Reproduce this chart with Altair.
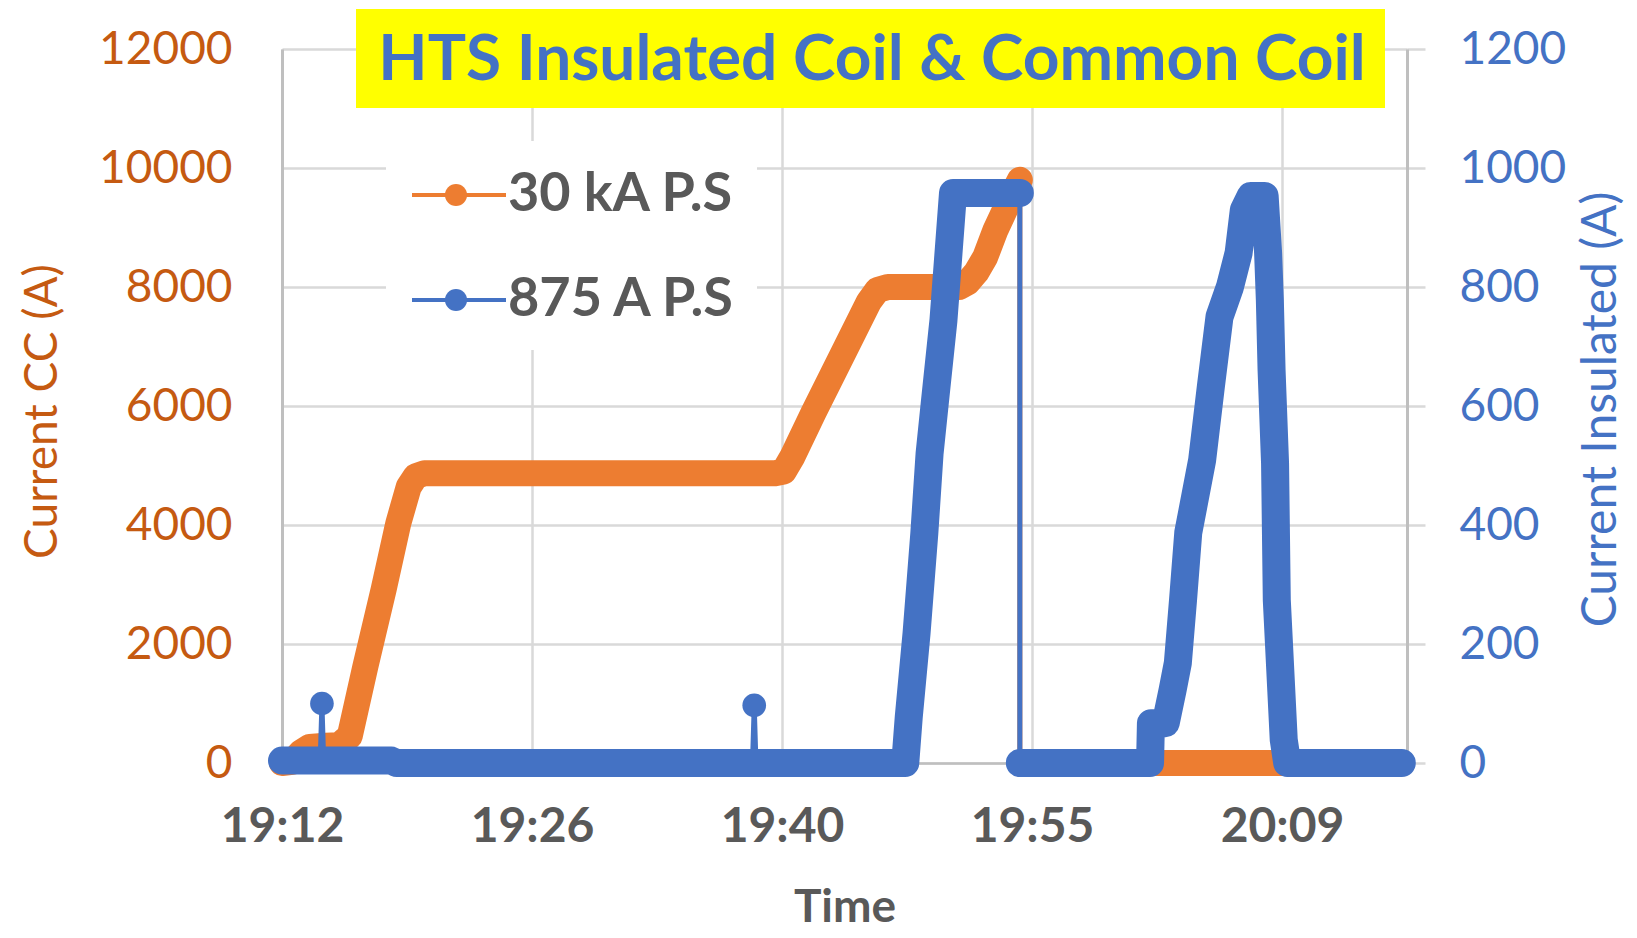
import altair as alt
import pandas as pd

# ---------------- data ----------------
series_names = ["30 kA P.S", "875 A P.S"]
series_colors = ["#ED7D31", "#4472C4"]

title_text = ["HTS Insulated Coil & Common Coil"]

# x in minutes after 19:12
x_tick_values = [0, 14.4, 28.8, 43.2, 57.6]
x_tick_labels = ["19:12", "19:26", "19:40", "19:55", "20:09"]
left_ticks = [0, 2000, 4000, 6000, 8000, 10000, 12000]
right_ticks = [0, 200, 400, 600, 800, 1000, 1200]

# 30 kA power supply (left axis)
orange_min = [0, 0.6, 1.1, 1.6, 2.5, 3.3, 3.9, 4.8, 5.85, 6.7, 7.3, 7.7, 8.2,
              28.4, 28.9, 29.4, 30.6, 32.5, 33.8, 34.3, 34.9,
              39.0, 39.5, 40.0, 40.5, 41.1, 41.9, 42.5,
              42.5, 58.0]
orange_val = [0, 20, 180, 270, 290, 300, 450, 1620, 2910, 4030, 4640, 4820, 4870,
              4870, 4900, 5150, 5880, 6990, 7750, 7950, 8000,
              8000, 8080, 8250, 8500, 8960, 9460, 9800,
              0, 0]
orange_seg = [1] * 28 + [2, 2]

# 875 A power supply (right axis)
blue_min = [0, 2.2, 2.3, 2.4, 6.3, 6.6, 27.1, 27.2, 27.3,
            35.9, 36.1, 36.55, 37.0, 37.3, 37.6, 38.1, 38.65, 42.5,
            42.5, 50.0, 50.05, 50.9, 51.3, 51.6, 51.9, 52.2, 53.0, 53.5, 54.0,
            54.6, 55.1, 55.4, 55.8, 56.6, 56.8, 56.9, 57.0, 57.2, 57.3, 57.7,
            57.9, 64.5]
blue_val = [4, 4, 100, 4, 4, 0, 0, 97, 0,
            0, 77, 218, 387, 520, 605, 744, 958, 958,
            0, 0, 67, 67, 123, 168, 274, 387, 509, 632, 750,
            800, 857, 929, 953, 953, 857, 778, 660, 504, 274, 39,
            0, 0]
blue_seg = [1, 1, 0, 1, 1, 1, 1, 0, 1,
            1, 1, 1, 1, 1, 1, 1, 1, 1,
            2, 2, 2, 2, 2, 2, 2, 2, 2, 2, 2,
            2, 2, 2, 2, 2, 2, 2, 2, 2, 2, 2,
            2, 2]

# ---------------- tables ----------------
df_o = pd.DataFrame({"m": orange_min, "v": orange_val, "seg": orange_seg})
df_o["series"] = series_names[0]
df_o["idx"] = range(len(df_o))
df_b = pd.DataFrame({"m": blue_min, "v": blue_val, "seg": blue_seg})
df_b["series"] = series_names[1]
df_b["idx"] = range(len(df_b))
df_leg = pd.DataFrame({"series": series_names})
df_title = pd.DataFrame({"t": title_text})

FONT = "Lato"
GRID = "#D9D9D9"
AXIS = "#BFBFBF"

label_expr = "".join(
    f"abs(datum.value-{v})<0.01 ? '{l}' : " for v, l in zip(x_tick_values, x_tick_labels)
) + "''"

x_enc = alt.X(
    "m:Q",
    scale=alt.Scale(domain=[0, 64.8], nice=False, zero=False),
    title="Time",
    axis=alt.Axis(
        values=x_tick_values, labelExpr=label_expr, ticks=False, tickSize=0,
        labelFont=FONT, labelFontSize=48, labelFontWeight="bold", labelColor="#595959",
        labelPadding=40, labelFlush=False, labelOverlap=False,
        titleFont=FONT, titleFontSize=46, titleFontWeight="bold", titleColor="#595959",
        titleY=158, titleBaseline="alphabetic", titleAlign="center",
        grid=True, gridColor=GRID, gridWidth=2.5,
        domainColor=AXIS, domainWidth=2.5,
    ),
)

color_enc = alt.Color("series:N", scale=alt.Scale(domain=series_names, range=series_colors), legend=None)

y_left = alt.Y(
    "v:Q",
    scale=alt.Scale(domain=[0, 12000], nice=False),
    title="Current CC (A)",
    axis=alt.Axis(
        values=left_ticks, format="d", ticks=False, tickSize=0,
        labelFont=FONT, labelFontSize=46, labelColor="#C55A11", labelPadding=50,
        titleFont=FONT, titleFontSize=46, titleFontWeight="normal", titleColor="#C55A11",
        titleAngle=-90, titleX=-240, titleY=362, titleAlign="center", titleBaseline="middle",
        grid=True, gridColor=GRID, gridWidth=2.5,
        domainColor=AXIS, domainWidth=3,
    ),
)

y_right = alt.Y(
    "v:Q",
    scale=alt.Scale(domain=[0, 1200], nice=False),
    title="Current Insulated (A)",
    axis=alt.Axis(
        orient="right", values=right_ticks, format="d",
        ticks=True, tickSize=18, tickColor=GRID, tickWidth=2.5,
        labelFont=FONT, labelFontSize=46, labelColor="#4472C4", labelPadding=34,
        titleFont=FONT, titleFontSize=48, titleFontWeight="normal", titleColor="#4472C4",
        titleAngle=-90, titleX=194, titleY=360, titleAlign="center", titleBaseline="middle",
        grid=False, domainColor=AXIS, domainWidth=3,
    ),
)

# ---------------- orange series ----------------
o_thin = alt.Chart(df_o).mark_line(strokeWidth=5, strokeCap="round").encode(
    x=x_enc, y=y_left, order="idx:Q", color=color_enc)
o_thick = alt.Chart(df_o).transform_filter("datum.seg > 0").mark_line(
    strokeWidth=26, strokeCap="round", strokeJoin="round").encode(
    x=x_enc, y=y_left, detail="seg:N", order="idx:Q", color=color_enc)
orange = alt.layer(o_thin, o_thick)

# ---------------- blue series ----------------
b_thin = alt.Chart(df_b).mark_line(strokeWidth=5, strokeCap="round").encode(
    x=x_enc, y=y_right, order="idx:Q", color=color_enc)
b_thick = alt.Chart(df_b).transform_filter("datum.seg > 0").mark_line(
    strokeWidth=28, strokeCap="round", strokeJoin="round").encode(
    x=x_enc, y=y_right, detail="seg:N", order="idx:Q", color=color_enc)
b_mark = alt.Chart(df_b).transform_filter("datum.seg == 0").mark_point(
    filled=True, size=560, opacity=1).encode(x=x_enc, y=y_right, color=color_enc)
blue = alt.layer(b_thin, b_thick, b_mark)

# ---------------- legend ----------------
leg_y = alt.Y("series:N", scale=alt.Scale(type="point", domain=series_names, range=[146, 251], padding=0), axis=None)
leg_bg = alt.Chart(df_title).mark_rect(color="white").encode(
    x=alt.value(104), x2=alt.value(475), y=alt.value(92), y2=alt.value(301))
leg_rule = alt.Chart(df_leg).mark_rule(strokeWidth=4).encode(
    x=alt.value(130), x2=alt.value(224), y=leg_y, color=color_enc)
leg_pt = alt.Chart(df_leg).mark_point(filled=True, size=490, opacity=1).encode(
    x=alt.value(174), y=leg_y, color=color_enc)
leg_txt = alt.Chart(df_leg).mark_text(
    align="left", baseline="middle", font=FONT, fontSize=54, fontWeight="bold", color="#595959").encode(
    x=alt.value(226), y=leg_y, text="series:N")
legend = alt.layer(leg_rule, leg_pt, leg_txt)

# ---------------- title box ----------------
t_box = alt.Chart(df_title).mark_rect(color="#FFFF00").encode(
    x=alt.value(74), x2=alt.value(1103), y=alt.value(-40), y2=alt.value(59))
t_txt = alt.Chart(df_title).mark_text(
    align="center", baseline="middle", font=FONT, fontSize=64, fontWeight="bold", color="#4472C4").encode(
    x=alt.value(590), y=alt.value(12), text="t:N")

chart = alt.layer(orange, blue, leg_bg, legend, t_box, t_txt).resolve_scale(
    y="independent"
).properties(
    width=1125, height=714,
    padding={"left": 274, "top": 41, "right": 222, "bottom": 167},
    autosize=alt.AutoSizeParams(type="none"),
).configure_view(stroke=None).configure(font=FONT)

chart.save("out.html", embed_options={"renderer": "svg", "actions": False})
